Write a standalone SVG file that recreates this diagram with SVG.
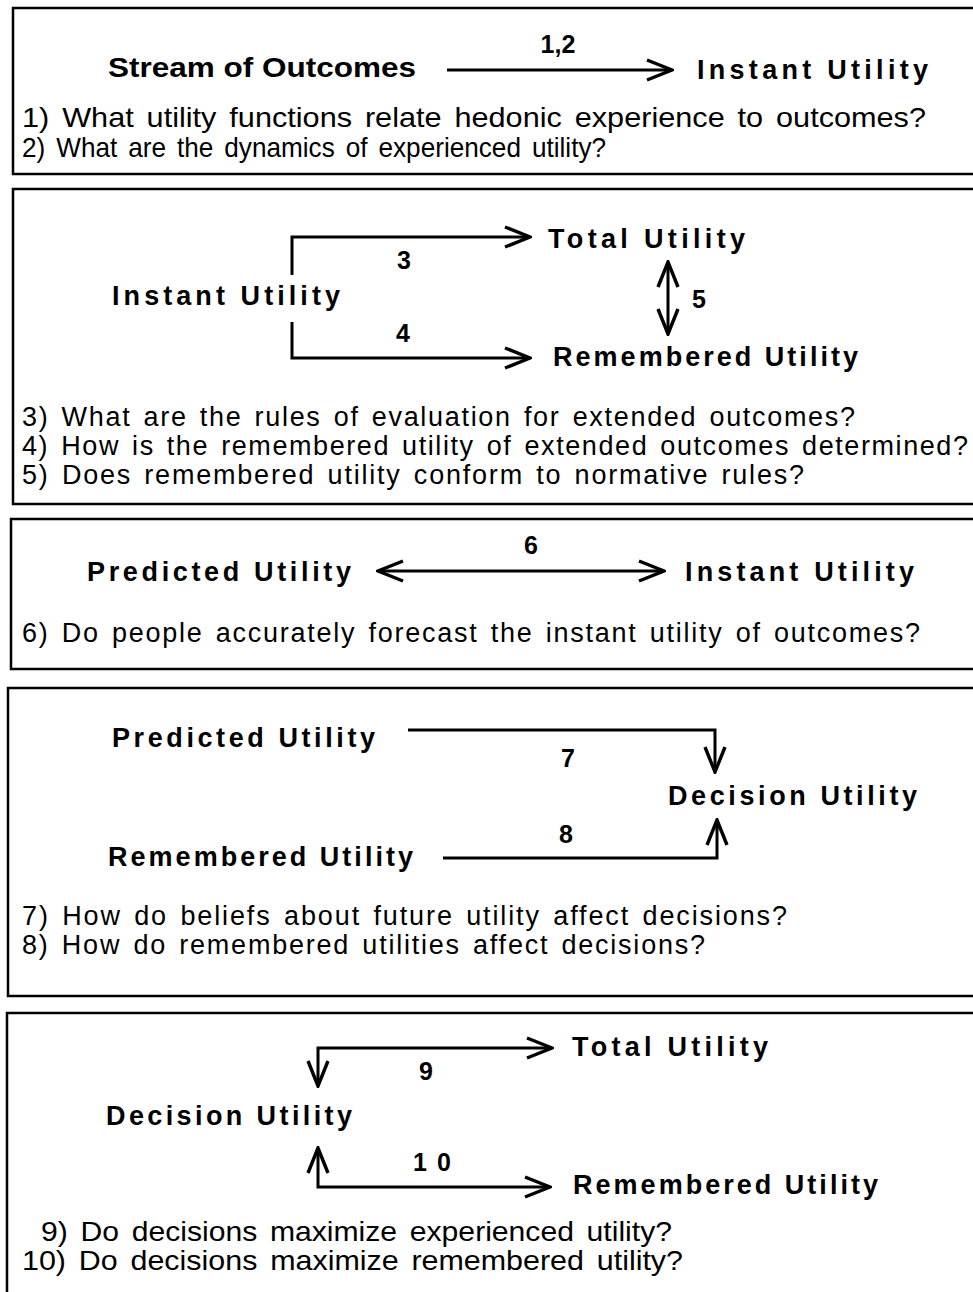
<svg xmlns="http://www.w3.org/2000/svg" width="973" height="1292" viewBox="0 0 973 1292">
<style>
.box{fill:none;stroke:#000;stroke-width:2.5}
.lbl{font-family:"Liberation Sans",Arial,sans-serif;font-weight:bold;font-size:27px;fill:#000}
.num{font-family:"Liberation Sans",Arial,sans-serif;font-weight:bold;font-size:25px;fill:#000;text-anchor:middle}
.q{font-family:"Liberation Sans",Arial,sans-serif;font-size:27px;fill:#000;word-spacing:3px}
.qn{font-family:"Liberation Sans",Arial,sans-serif;font-size:28px;fill:#000;word-spacing:4px}
.con{fill:none;stroke:#000;stroke-width:3}
</style>
<defs>
<marker id="arr" markerUnits="userSpaceOnUse" viewBox="0 0 30 24" refX="28" refY="12" markerWidth="30" markerHeight="24" orient="auto-start-reverse">
<path d="M3,2 L28,12 L3,22" fill="none" stroke="#000" stroke-width="3.4" stroke-linejoin="miter"/>
</marker>
</defs>
<rect width="973" height="1292" fill="#fff"/>
<g id="frames">
<rect class="box" x="13" y="8" width="990" height="166"/>
<rect class="box" x="13" y="189" width="990" height="315"/>
<rect class="box" x="11" y="519" width="990" height="150"/>
<rect class="box" x="8" y="688" width="990" height="308"/>
<rect class="box" x="7" y="1013" width="990" height="300"/>
</g>
<g id="connectors">
<path class="con" d="M447,70 H672" marker-end="url(#arr)"/>
<path class="con" d="M292,275 V237 H530" marker-end="url(#arr)"/>
<path class="con" d="M292,322 V358 H530" marker-end="url(#arr)"/>
<path class="con" d="M668,262 V334" marker-start="url(#arr)" marker-end="url(#arr)"/>
<path class="con" d="M378,571 H664" marker-start="url(#arr)" marker-end="url(#arr)"/>
<path class="con" d="M408,730 H715 V772" marker-end="url(#arr)"/>
<path class="con" d="M443,858 H717 V820" marker-end="url(#arr)"/>
<path class="con" d="M318,1086 V1048 H552" marker-start="url(#arr)" marker-end="url(#arr)"/>
<path class="con" d="M318,1148 V1187 H550" marker-start="url(#arr)" marker-end="url(#arr)"/>
</g>
<g id="panel1">
<text class="num" x="558" y="53">1,2</text>
<g id="stream"><text class="lbl" x="108" y="77" textLength="308" lengthAdjust="spacingAndGlyphs">Stream of Outcomes</text></g>
<g id="instant1"><text class="lbl" x="697" y="79" textLength="231" lengthAdjust="spacing">Instant Utility</text></g>
<text class="qn" x="22" y="127" textLength="904" lengthAdjust="spacingAndGlyphs">1) What utility functions relate hedonic experience to outcomes?</text>
<text class="qn" x="22" y="157" textLength="584" lengthAdjust="spacingAndGlyphs">2) What are the dynamics of experienced utility?</text>
</g>
<g id="panel2">
<g id="total2"><text class="lbl" x="548" y="248" textLength="197" lengthAdjust="spacing">Total Utility</text></g>
<g id="instant2"><text class="lbl" x="112" y="305" textLength="228" lengthAdjust="spacing">Instant Utility</text></g>
<g id="remembered2"><text class="lbl" x="553" y="366" textLength="305" lengthAdjust="spacing">Remembered Utility</text></g>
<text class="num" x="404" y="269">3</text>
<text class="num" x="403" y="342">4</text>
<text class="num" x="699" y="308">5</text>
<text class="q" x="22" y="426" textLength="833" lengthAdjust="spacing">3) What are the rules of evaluation for extended outcomes?</text>
<text class="q" x="22" y="455" textLength="946" lengthAdjust="spacing">4) How is the remembered utility of extended outcomes determined?</text>
<text class="q" x="22" y="484" textLength="782" lengthAdjust="spacing">5) Does remembered utility conform to normative rules?</text>
</g>
<g id="panel3">
<text class="num" x="531" y="554">6</text>
<g id="predicted3"><text class="lbl" x="87" y="581" textLength="264" lengthAdjust="spacing">Predicted Utility</text></g>
<g id="instant3"><text class="lbl" x="685" y="581" textLength="229" lengthAdjust="spacing">Instant Utility</text></g>
<text class="q" x="22" y="642" textLength="898" lengthAdjust="spacing">6) Do people accurately forecast the instant utility of outcomes?</text>
</g>
<g id="panel4">
<g id="predicted4"><text class="lbl" x="112" y="747" textLength="263" lengthAdjust="spacing">Predicted Utility</text></g>
<g id="decision4"><text class="lbl" x="668" y="805" textLength="249" lengthAdjust="spacing">Decision Utility</text></g>
<g id="remembered4"><text class="lbl" x="108" y="866" textLength="305" lengthAdjust="spacing">Remembered Utility</text></g>
<text class="num" x="568" y="767">7</text>
<text class="num" x="566" y="843">8</text>
<text class="q" x="22" y="925" textLength="765" lengthAdjust="spacing">7) How do beliefs about future utility affect decisions?</text>
<text class="q" x="22" y="954" textLength="683" lengthAdjust="spacing">8) How do remembered utilities affect decisions?</text>
</g>
<g id="panel5">
<g id="total5"><text class="lbl" x="572" y="1056" textLength="196" lengthAdjust="spacing">Total Utility</text></g>
<g id="decision5"><text class="lbl" x="106" y="1125" textLength="246" lengthAdjust="spacing">Decision Utility</text></g>
<g id="remembered5"><text class="lbl" x="573" y="1194" textLength="305" lengthAdjust="spacing">Remembered Utility</text></g>
<text class="num" x="426" y="1080">9</text>
<text class="num" x="432" y="1171" textLength="38" lengthAdjust="spacing">10</text>
<text class="qn" x="41" y="1241" textLength="631" lengthAdjust="spacingAndGlyphs">9) Do decisions maximize experienced utility?</text>
<text class="qn" x="22" y="1270" textLength="661" lengthAdjust="spacingAndGlyphs">10) Do decisions maximize remembered utility?</text>
</g>
</svg>
